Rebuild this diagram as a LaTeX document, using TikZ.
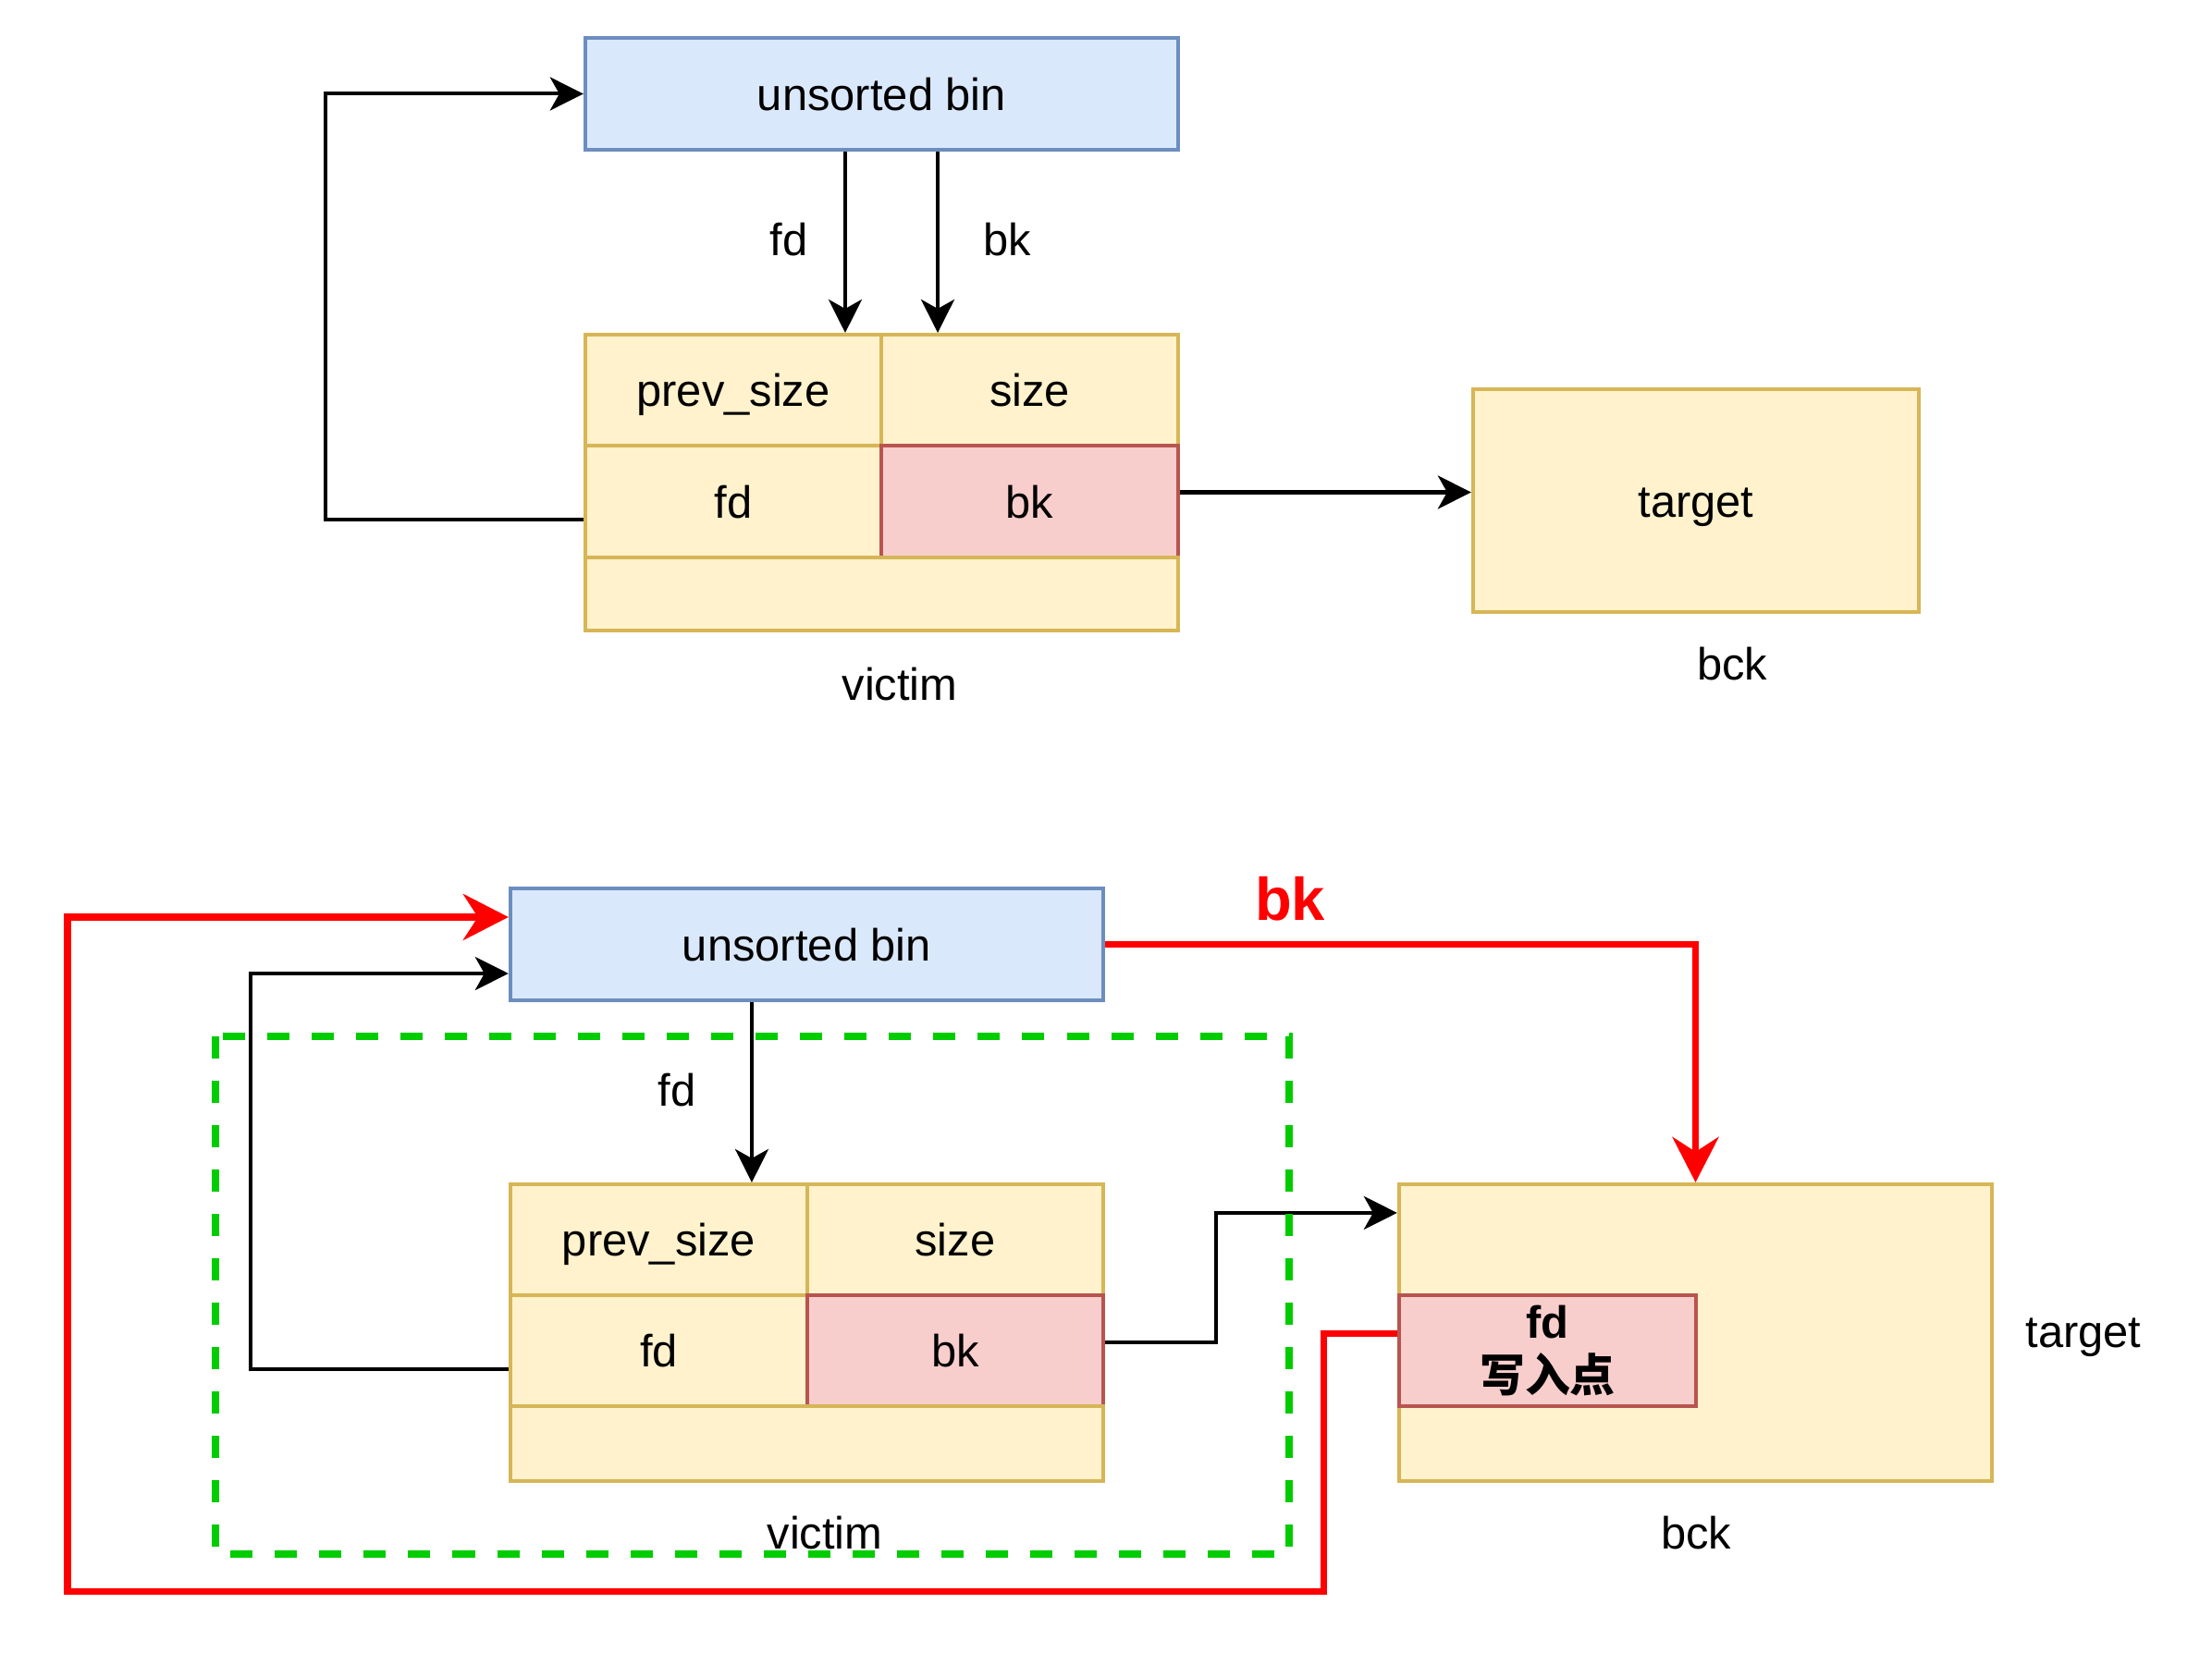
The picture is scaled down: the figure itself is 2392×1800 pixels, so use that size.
\documentclass[tikz,border=0pt]{standalone}
\usepackage{fontspec}
\setmainfont{Liberation Sans}
\newfontfamily\cjkfont{Noto Sans CJK SC}
\usetikzlibrary{arrows.meta,positioning}
\definecolor{binfill}{HTML}{DAE8FC}
\definecolor{bindraw}{HTML}{6C8EBF}
\definecolor{chkfill}{HTML}{FFF2CC}
\definecolor{chkdraw}{HTML}{D6B656}
\definecolor{hotfill}{HTML}{F8CECC}
\definecolor{hotdraw}{HTML}{B85450}
\definecolor{lnred}{HTML}{FF0000}
\definecolor{lngreen}{HTML}{00CC00}
\tikzset{
  txtbase/.style={font=\fontsize{13.9}{16.7}\selectfont,inner sep=0pt},
  txt/.style={txtbase,text height=10.1pt,text depth=0pt},
  binnode/.style={txt,rectangle,draw=bindraw,fill=binfill,line width=0.04cm,minimum width=6.41cm,minimum height=1.21cm},
  cellbase/.style={txtbase,rectangle,draw=chkdraw,fill=chkfill,line width=0.04cm,minimum width=3.2cm,minimum height=1.2cm},
  cellnode/.style={cellbase,txt},
  hotnode/.style={cellnode,draw=hotdraw,fill=hotfill},
  wpnode/.style={cellbase,draw=hotdraw,fill=hotfill,align=center},
  ptredge/.style={-{Stealth[length=0.36cm,width=0.36cm,inset=0.1cm]},line width=0.04cm,black},
  rededge/.style={-{Stealth[length=0.49cm,width=0.5cm,inset=0.16cm]},line width=0.07cm,lnred},
  grpbox/.style={draw=lngreen,line width=0.08cm,dash pattern=on 0.24cm off 0.24cm},
}
\begin{document}
\begin{tikzpicture}[x=0.01cm,y=-0.01cm]
  \useasboundingbox (0,0) rectangle (2392,1800);
  % before
  \node[binnode] (nBinA) at (953.5,101.5) {unsorted bin};
  \node[cellnode] (nPrevA) at (793,422) {prev\_size};
  \node[cellnode,minimum width=3.21cm] (nSizeA) at (1113.5,422) {size};
  \node[cellnode,minimum height=1.21cm] (nFdA) at (793,542.5) {fd};
  \node[hotnode,minimum width=3.21cm,minimum height=1.21cm] (nBkA) at (1113.5,542.5) {bk};
  \node[cellnode,minimum width=6.41cm,minimum height=0.79cm] (nPadA) at (953.5,642.5) {};
  \node[cellnode,minimum width=4.82cm,minimum height=2.41cm] (nTgtA) at (1834,541.5) {target};
  \node[txt] (nFdLblA) at (853,259) {fd};
  \node[txt] (nBkLblA) at (1089,259) {bk};
  \node[txt] (nVicA) at (973,740) {victim};
  \node[txt] (nBckA) at (1873,718) {bck};
  \draw[ptredge] ([xshift=-0.395cm]nBinA.south) -- ([xshift=-0.395cm]nBinA.south |- nPrevA.north);
  \draw[ptredge] ([xshift=0.605cm]nBinA.south) -- ([xshift=0.605cm]nBinA.south |- nSizeA.north);
  \draw[ptredge] ([yshift=0.1cm]nBkA.east) -- ([yshift=0.1cm]nBkA.east -| nTgtA.west);
  \draw[ptredge] ([yshift=-0.19cm]nFdA.west) -- ++(-2.79cm,0) |- (nBinA.west);
  % after
  \node[binnode] (nBinB) at (872.5,1021.5) {unsorted bin};
  \node[cellnode,minimum width=3.21cm] (nPrevB) at (712.5,1341) {prev\_size};
  \node[cellnode] (nSizeB) at (1033,1341) {size};
  \node[cellnode,minimum width=3.21cm] (nFdB) at (712.5,1461) {fd};
  \node[hotnode] (nBkB) at (1033,1461) {bk};
  \node[cellnode,minimum width=6.41cm,minimum height=0.81cm] (nPadB) at (872.5,1561.5) {};
  \node[cellnode,minimum width=6.41cm,minimum height=3.21cm] (nTgtB) at (1833.5,1441.5) {};
  \node[wpnode,minimum width=3.21cm] (nWpB) at (1673.5,1461)
    {\bfseries fd\\\cjkfont\bfseries 写入点};
  \node[txt] (nFdLblB) at (732,1179) {fd};
  \node[txt] (nVicB) at (892,1658) {victim};
  \node[txt] (nBckB) at (1834,1658) {bck};
  \node[txt] (nTgtLblB) at (2253,1440) {target};
  \node[txt,font=\fontsize{18.5}{22}\selectfont\bfseries,text=lnred] (nBkHot) at (1395,978) {bk};
  \coordinate (cLoopSW) at (73,1721);
  \draw[ptredge] ([xshift=-0.595cm]nBinB.south) -- ([xshift=-0.595cm]nBinB.south |- nPrevB.north);
  \draw[ptredge] ([yshift=-0.2cm]nFdB.west) -- ++(-2.79cm,0) |- ([yshift=-0.315cm]nBinB.west);
  \draw[ptredge] ([yshift=0.09cm]nBkB.east) -- ++(1.2cm,0) |- ([yshift=1.295cm]nTgtB.west);
  \draw[rededge] (nBinB.east) -| (nTgtB.north);
  \draw[rededge] ([yshift=0.19cm]nWpB.west) -- ++(-0.79cm,0) |- (cLoopSW) |- ([yshift=0.295cm]nBinB.west);
  \draw[grpbox] (233,1121) rectangle (1394,1681);
\end{tikzpicture}
\end{document}
